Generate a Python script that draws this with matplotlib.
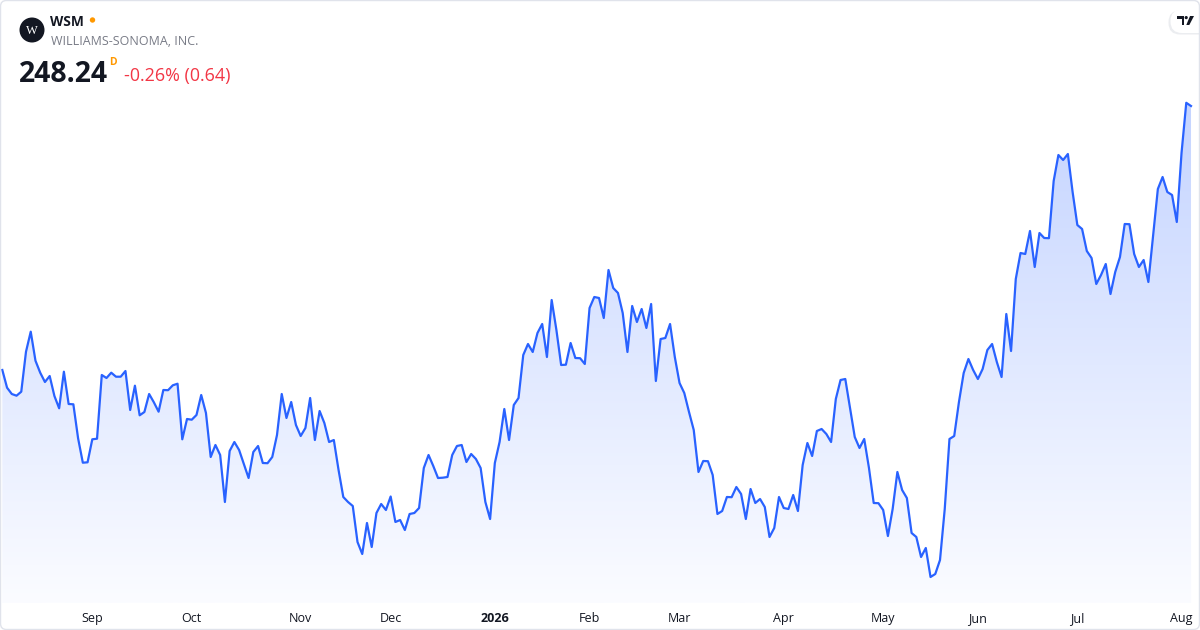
import numpy as np
import pandas as pd
import matplotlib
matplotlib.use("Agg")
import matplotlib.pyplot as plt
from matplotlib.patches import Circle, FancyBboxPatch, Polygon
from matplotlib.colors import LinearSegmentedColormap

# daily closes, WSM, Aug 2025 -> Aug 2026
closes = [
    195.44, 191.90, 190.64, 190.30, 191.10, 199.10, 203.10, 197.30, 194.90, 193.04,
    194.24, 190.24, 187.78, 195.10, 188.64, 188.58, 181.78, 176.90, 176.98, 181.58,
    181.70, 194.44, 193.84, 194.90, 194.10, 194.10, 195.24, 187.44, 192.30, 186.38,
    187.04, 190.64, 188.98, 187.10, 191.44, 191.40, 192.38, 192.70, 181.58, 185.64,
    185.50, 186.44, 190.44, 186.84, 178.04, 180.44, 178.44, 169.04, 179.24, 181.04,
    179.44, 176.64, 173.84, 179.04, 180.24, 176.84, 176.80, 178.04, 182.44, 190.64,
    185.84, 189.04, 184.44, 182.24, 183.84, 189.84, 181.44, 187.24, 184.84, 181.04,
    181.44, 175.44, 170.04, 169.04, 168.24, 161.04, 158.64, 164.84, 160.04, 166.84,
    168.64, 167.44, 170.14, 165.04, 165.44, 163.44, 166.64, 166.84, 167.84, 175.84,
    178.44, 176.24, 173.84, 173.90, 174.04, 178.44, 180.24, 180.44, 177.04, 178.64,
    177.64, 175.84, 169.04, 165.64, 176.84, 181.04, 187.64, 181.44, 188.44, 189.84,
    198.44, 200.64, 199.04, 202.84, 204.64, 198.04, 209.44, 203.44, 196.44, 196.50,
    200.84, 197.84, 197.80, 196.64, 207.84, 210.04, 209.84, 205.84, 215.44, 211.84,
    210.84, 206.84, 199.04, 208.24, 205.04, 207.64, 203.84, 208.64, 193.24, 201.64,
    201.84, 204.64, 198.04, 192.84, 190.84, 187.04, 183.44, 175.04, 177.24, 177.20,
    174.44, 166.64, 167.24, 170.04, 170.00, 172.04, 170.64, 165.64, 171.64, 168.84,
    169.64, 168.04, 162.04, 163.84, 170.04, 167.84, 167.64, 170.44, 167.24, 176.44,
    180.84, 178.24, 183.24, 183.64, 182.64, 181.04, 189.64, 193.44, 193.64, 187.84,
    182.04, 179.84, 181.64, 175.84, 168.84, 168.80, 167.44, 162.24, 167.64, 175.04,
    171.44, 169.84, 162.84, 162.04, 158.04, 159.84, 154.04, 154.64, 157.44, 167.64,
    181.64, 182.24, 189.04, 194.84, 197.64, 195.44, 193.64, 195.64, 199.44, 200.64,
    197.04, 194.04, 206.64, 199.24, 213.64, 218.84, 218.64, 223.24, 216.04, 222.84,
    221.84, 221.80, 233.24, 238.44, 237.44, 238.64, 231.04, 224.44, 223.64, 219.24,
    217.84, 212.64, 214.44, 216.64, 210.64, 215.04, 218.04, 224.64, 224.60, 218.64,
    216.04, 217.44, 213.04, 222.44, 231.64, 234.04, 231.04, 230.44, 225.04, 238.84,
    248.88, 248.24,
]

# NYSE closures in the window
holidays = ["2025-09-01", "2025-11-27", "2025-12-25", "2026-01-01", "2026-01-19",
            "2026-02-16", "2026-04-03", "2026-05-25", "2026-06-19", "2026-07-03"]
dates = pd.bdate_range("2025-08-05", "2026-08-05", freq="C", holidays=holidays)

ticker = "WSM"
company = "WILLIAMS-SONOMA, INC."
last_price = "248.24"
interval = "D"
change_text = "-0.26% (0.64)"

W, H = 1200, 630
fig = plt.figure(figsize=(W / 100, H / 100), dpi=100)
plt.rcParams['font.family'] = ['Open Sans', 'DejaVu Sans']
tr = fig.dpi_scale_trans


def ip(x, y):
    # pixel (from top-left) -> inches for dpi_scale_trans
    return x / 100, (H - y) / 100


# chart pane
top_px, bot_px = 90, 603
ax = fig.add_axes([0, 1 - bot_px / H, 1, (bot_px - top_px) / H])
ax.set_facecolor("none")
x = np.arange(len(closes))
x0, x1 = -0.49, 252.9
y0, y1 = 148.84, 251.44
ax.set_xlim(x0, x1)
ax.set_ylim(y0, y1)

fill = ax.fill_between(x, closes, y0, color="none", lw=0)
grad = np.linspace(1, 0, 256).reshape(-1, 1)
cmap = LinearSegmentedColormap.from_list("tvfill", ["#fbfcff", "#c3d3ff"])
im = ax.imshow(grad, extent=[x0, x1, y0, y1], aspect="auto", cmap=cmap,
               origin="upper", zorder=1)
im.set_clip_path(fill.get_paths()[0], transform=ax.transData)
ax.plot(x, closes, color="#2962ff", lw=1.6, solid_joinstyle="round", zorder=3)

for s in ax.spines.values():
    s.set_visible(False)
ax.set_yticks([])

month_start = [i for i in range(1, len(dates)) if dates[i].month != dates[i - 1].month]
labels = ["2026" if dates[i].month == 1 else dates[i].strftime("%b") for i in month_start]
ax.set_xticks(month_start)
ax.set_xticklabels(labels)
ax.tick_params(axis="x", length=0, pad=6.5, labelsize=9.0, labelcolor="#131722")
for t in ax.get_xticklabels():
    if t.get_text() == "2026":
        t.set_fontweight("bold")

# header
fig.patches.append(Circle(ip(32, 30), 0.125, transform=tr, facecolor="#131722",
                          edgecolor="none"))
fig.text(*ip(32.3, 30.5), "W", transform=tr, ha="center", va="center", color="white",
         fontsize=9, family=["Liberation Serif", "DejaVu Serif"])
fig.text(*ip(50.5, 26), ticker, transform=tr, fontsize=9.9, fontweight="bold",
         color="#131722", va="baseline")
fig.patches.append(Circle(ip(92.5, 20), 0.027, transform=tr, facecolor="#ff9800",
                          edgecolor="none"))
fig.text(*ip(51, 45), company, transform=tr, fontsize=9.0, color="#787b86",
         va="baseline")
fig.text(*ip(18.5, 82), last_price, transform=tr, fontsize=20.4, fontweight="bold",
         color="#131722", va="baseline")
fig.text(*ip(109.5, 65), interval, transform=tr, fontsize=7.5, fontweight="bold",
         color="#ff9800", va="baseline")
fig.text(*ip(123.5, 80.5), change_text, transform=tr, fontsize=12.9, color="#f23645",
         va="baseline")

# watermark pill, top right
fig.patches.append(FancyBboxPatch(ip(1168.5, 34.5), 0.42, 0.24, transform=tr,
                                  boxstyle="round,pad=0,rounding_size=0.115",
                                  facecolor="#dfe1e6", edgecolor="none", alpha=0.6))
fig.patches.append(FancyBboxPatch(ip(1170.5, 33), 0.40, 0.235, transform=tr,
                                  boxstyle="round,pad=0,rounding_size=0.115",
                                  facecolor="white", edgecolor="none"))
logo_parts = [
    [(1177.3, 16), (1184.3, 16), (1184.3, 25), (1181.7, 25), (1181.7, 19), (1177.3, 19)],
    [(1190, 16), (1194, 16), (1189.3, 25), (1186.3, 25)],
]
for part in logo_parts:
    fig.patches.append(Polygon([ip(a, b) for a, b in part], closed=True, transform=tr,
                               facecolor="#131722", edgecolor="none"))
fig.patches.append(Circle(ip(1186.2, 17.6), 0.016, transform=tr, facecolor="#131722",
                          edgecolor="none"))

# outer card border
fig.patches.append(FancyBboxPatch(ip(0.5, 629.5), 11.99, 6.29, transform=tr,
                                  boxstyle="round,pad=0,rounding_size=0.06",
                                  facecolor="none", edgecolor="#e0e3eb", lw=1))

fig.savefig("out.png", dpi=100)
